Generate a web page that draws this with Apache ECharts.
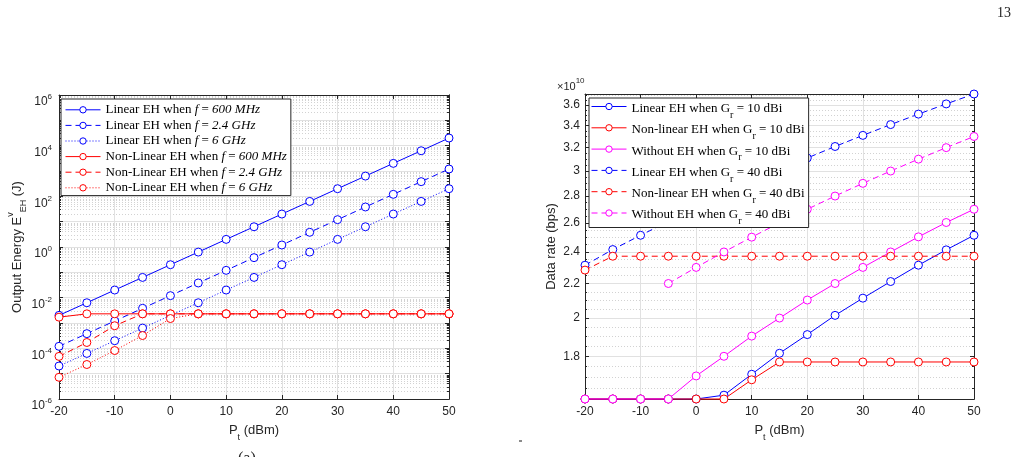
<!DOCTYPE html>
<html>
<head>
<meta charset="utf-8">
<script src="https://cdn.jsdelivr.net/npm/echarts@6/dist/echarts.min.js"></script>
<style>
html, body { margin: 0; padding: 0; background: #fff; }
#main { width: 1028px; height: 457px; }
</style>
</head>
<body>
<div id="main"></div>
<script>
// transmit power (dBm), shared by both panels
var pt = [-20, -15, -10, -5, 0, 5, 10, 15, 20, 25, 30, 35, 40, 45, 50];

// left panel: output energy (J)
var linear600 = [2e-3, 6.3e-3, 2e-2, 6.3e-2, 0.2, 0.63, 2, 6.3, 20, 63, 200, 630, 2000, 6300, 2e4];
var linear2400 = [1.2e-4, 3.8e-4, 1.2e-3, 3.8e-3, 1.2e-2, 3.8e-2, 0.12, 0.38, 1.2, 3.8, 12, 38, 120, 380, 1200];
var linear6000 = [2e-5, 6.3e-5, 2e-4, 6.3e-4, 2e-3, 6.3e-3, 2e-2, 6.3e-2, 0.2, 0.63, 2, 6.3, 20, 63, 200];
var nonlin600 = [1.7e-3, 2.3e-3, 2.3e-3, 2.3e-3, 2.3e-3, 2.3e-3, 2.3e-3, 2.3e-3, 2.3e-3, 2.3e-3, 2.3e-3, 2.3e-3, 2.3e-3, 2.3e-3, 2.3e-3];
var nonlin2400 = [4.8e-5, 1.7e-4, 7.8e-4, 2.3e-3, 2.3e-3, 2.3e-3, 2.3e-3, 2.3e-3, 2.3e-3, 2.3e-3, 2.3e-3, 2.3e-3, 2.3e-3, 2.3e-3, 2.3e-3];
var nonlin6000 = [7.2e-6, 2.3e-5, 8.2e-5, 3.2e-4, 1.5e-3, 2.3e-3, 2.3e-3, 2.3e-3, 2.3e-3, 2.3e-3, 2.3e-3, 2.3e-3, 2.3e-3, 2.3e-3, 2.3e-3];

// right panel: data rate (bps)
var linear10 = [1.6e10, 1.6e10, 1.6e10, 1.6e10, 1.6e10, 1.617e10, 1.713e10, 1.815e10, 1.911e10, 2.015e10, 2.113e10, 2.212e10, 2.314e10, 2.414e10, 2.513e10];
var nonlin10 = [1.6e10, 1.6e10, 1.6e10, 1.6e10, 1.6e10, 1.6e10, 1.687e10, 1.772e10, 1.772e10, 1.772e10, 1.772e10, 1.772e10, 1.772e10, 1.772e10, 1.772e10];
var without10 = [1.6e10, 1.6e10, 1.6e10, 1.6e10, 1.705e10, 1.8e10, 1.903e10, 2.0e10, 2.102e10, 2.2e10, 2.3e10, 2.4e10, 2.502e10, 2.603e10, 2.7e10];
var linear40 = [2.314e10, 2.416e10, 2.513e10, 2.61e10, 2.71e10, 2.81e10, 2.91e10, 3.01e10, 3.11e10, 3.21e10, 3.31e10, 3.41e10, 3.51e10, 3.61e10, 3.71e10];
var nonlin40 = [2.283e10, 2.372e10, 2.372e10, 2.372e10, 2.372e10, 2.372e10, 2.372e10, 2.372e10, 2.372e10, 2.372e10, 2.372e10, 2.372e10, 2.372e10, 2.372e10, 2.372e10];
var without40 = [null, null, null, 2.2e10, 2.3e10, 2.4e10, 2.5e10, 2.6e10, 2.7e10, 2.8e10, 2.9e10, 3.0e10, 3.1e10, 3.2e10, 3.3e10];

// tick values
var energyDecades = [1e-6, 1e-5, 1e-4, 1e-3, 1e-2, 1e-1, 1, 10, 100, 1e3, 1e4, 1e5, 1e6];
var energyLabels = [1e-6, 1e-4, 1e-2, 1, 100, 1e4, 1e6];
var rateTicks = [1.8e10, 2.0e10, 2.2e10, 2.4e10, 2.6e10, 2.8e10, 3.0e10, 3.2e10, 3.4e10, 3.6e10];

var energyMinor = [];
for (var e = -6; e < 6; e++) {
  for (var m = 2; m <= 9; m++) energyMinor.push(m * Math.pow(10, e));
}
var rateMinor = [];
for (var k = 32; k <= 74; k++) {
  if (k % 4 === 0 && k >= 36 && k <= 72) continue;
  rateMinor.push(k * 5e8);
}

var axisColor = '#262626';
var gridColor = '#e1e1e1';
var minorColor = '#d2d2d2';
var sans = '"Liberation Sans", Arial, sans-serif';
var serif = '"Liberation Serif", "Times New Roman", serif';

var subRich = {
  b: { fontFamily: sans, fontSize: 13, color: axisColor, lineHeight: 15, verticalAlign: 'top' },
  sub: { fontFamily: sans, fontSize: 9, color: axisColor, lineHeight: 9, padding: [9, 0, 0, 0], verticalAlign: 'top' },
  sup: { fontFamily: sans, fontSize: 9, color: axisColor, lineHeight: 9, padding: [0, 0, 0, 0], verticalAlign: 'top' }
};
var nameRichY = {
  b: { fontFamily: sans, fontSize: 13, color: axisColor, lineHeight: 15, padding: [5, 0, 0, 0], verticalAlign: 'top' },
  sub: { fontFamily: sans, fontSize: 9, color: axisColor, lineHeight: 9, padding: [13, 0, 0, 0], verticalAlign: 'top' },
  sup: { fontFamily: sans, fontSize: 9, color: axisColor, lineHeight: 9, padding: [0, 0, 0, 0], verticalAlign: 'top' }
};

function bottomX(g) {
  return {
    type: 'value', gridIndex: g, position: 'bottom', min: -20, max: 50, interval: 10,
    axisLine: { show: true, onZero: false, lineStyle: { color: axisColor, width: 1 } },
    axisTick: { show: true, inside: true, length: 4, lineStyle: { color: axisColor } },
    axisLabel: { color: axisColor, fontFamily: sans, fontSize: 12, margin: 7 },
    splitLine: { show: true, lineStyle: { color: gridColor, width: 1 } },
    name: '{b|P}{sub|t}{b| (dBm)}', nameLocation: 'middle', nameGap: 25,
    nameTextStyle: { rich: subRich }
  };
}
function topX(g) {
  return {
    type: 'value', gridIndex: g, position: 'top', min: -20, max: 50, interval: 10,
    axisLine: { show: true, onZero: false, lineStyle: { color: axisColor, width: 1 } },
    axisTick: { show: true, inside: true, length: 4, lineStyle: { color: axisColor } },
    axisLabel: { show: false },
    splitLine: { show: false }
  };
}
function frameY(g, min, max, ticks, len) {
  return {
    type: 'log', logBase: 10, gridIndex: g, position: 'right', min: min, max: max,
    axisLine: { show: true, onZero: false, lineStyle: { color: axisColor, width: 1 } },
    axisTick: { show: true, inside: true, length: len, customValues: ticks, lineStyle: { color: axisColor } },
    axisLabel: { show: false },
    splitLine: { show: false }
  };
}
function minorY(g, min, max, ticks) {
  return {
    type: 'log', logBase: 10, gridIndex: g, position: 'left', min: min, max: max,
    axisLine: { show: false, onZero: false },
    axisTick: { show: true, inside: true, length: 2, customValues: ticks, lineStyle: { color: axisColor } },
    axisLabel: { show: false },
    splitLine: { show: true, lineStyle: { color: minorColor, width: 1, type: [1, 2] } }
  };
}

var yAxes = [
  {
    type: 'log', logBase: 10, gridIndex: 0, position: 'left', min: 1e-6, max: 1e6,
    axisLine: { show: true, onZero: false, lineStyle: { color: axisColor, width: 1 } },
    axisTick: { show: true, inside: true, length: 4, customValues: energyDecades, lineStyle: { color: axisColor } },
    axisLabel: {
      customValues: energyLabels, margin: 7,
      formatter: function (v) { return '{b|10}{s|' + Math.round(Math.log10(v)) + '}'; },
      rich: {
        b: { fontFamily: sans, fontSize: 12, color: axisColor, lineHeight: 14, padding: [8, 0, 0, 0], verticalAlign: 'top' },
        s: { fontFamily: sans, fontSize: 8, color: axisColor, lineHeight: 8, padding: [5, 0, 0, 0], verticalAlign: 'top' }
      }
    },
    splitLine: { show: true, lineStyle: { color: gridColor, width: 1 } },
    name: '{b|Output Energy E}{sup|v}{sub|EH}{b| (J)}', nameLocation: 'middle', nameGap: 30,
    nameTextStyle: { rich: nameRichY }
  },
  minorY(0, 1e-6, 1e6, energyMinor),
  frameY(0, 1e-6, 1e6, energyDecades, 4),
  frameY(0, 1e-6, 1e6, energyMinor, 2),
  {
    type: 'log', logBase: 10, gridIndex: 1, position: 'left', min: 1.6e10, max: 3.71e10,
    axisLine: { show: true, onZero: false, lineStyle: { color: axisColor, width: 1 } },
    axisTick: { show: true, inside: true, length: 4, customValues: rateTicks, lineStyle: { color: axisColor } },
    axisLabel: {
      customValues: rateTicks, margin: 5, color: axisColor, fontFamily: sans, fontSize: 12,
      formatter: function (v) { return String(+(v / 1e10).toFixed(1)); }
    },
    splitLine: { show: true, lineStyle: { color: gridColor, width: 1 } },
    name: 'Data rate (bps)', nameLocation: 'middle', nameGap: 27,
    nameTextStyle: { color: axisColor, fontFamily: sans, fontSize: 13 }
  },
  minorY(1, 1.6e10, 3.71e10, rateMinor),
  frameY(1, 1.6e10, 3.71e10, rateTicks, 4),
  frameY(1, 1.6e10, 3.71e10, rateMinor, 2)
];

// open circle markers: white fill, coloured 1px outline
function line(name, ys, color, dash, xi, yi) {
  var data = [];
  for (var i = 0; i < pt.length; i++) {
    if (ys[i] != null) data.push([pt[i], ys[i]]);
  }
  return {
    name: name, type: 'line', xAxisIndex: xi, yAxisIndex: yi, data: data,
    symbol: 'circle', symbolSize: 8, clip: false,
    lineStyle: { color: color, width: 1, type: dash },
    itemStyle: { color: '#fff', borderColor: color, borderWidth: 1 },
    emphasis: { disabled: true }
  };
}

var DASH = [6, 4];
var DOT = [1, 2];
var blue = '#0000ff', red = '#ff0000', pink = '#ff00ff';

var leftNames = [
  'Linear EH when f = 600 MHz', 'Linear EH when f = 2.4 GHz', 'Linear EH when f = 6 GHz',
  'Non-Linear EH when f = 600 MHz', 'Non-Linear EH when f = 2.4 GHz', 'Non-Linear EH when f = 6 GHz'
];
var rightNames = [
  'Linear EH when G_r = 10 dBi', 'Non-linear EH when G_r = 10 dBi', 'Without EH when G_r = 10 dBi',
  'Linear EH when G_r = 40 dBi', 'Non-linear EH when G_r = 40 dBi', 'Without EH when G_r = 40 dBi'
];

var series = [
  line(leftNames[0], linear600, blue, 'solid', 0, 0),
  line(leftNames[1], linear2400, blue, DASH, 0, 0),
  line(leftNames[2], linear6000, blue, DOT, 0, 0),
  line(leftNames[3], nonlin600, red, 'solid', 0, 0),
  line(leftNames[4], nonlin2400, red, DASH, 0, 0),
  line(leftNames[5], nonlin6000, red, DOT, 0, 0),
  line(rightNames[0], linear10, blue, 'solid', 2, 4),
  line(rightNames[1], nonlin10, red, 'solid', 2, 4),
  line(rightNames[2], without10, pink, 'solid', 2, 4),
  line(rightNames[3], linear40, blue, DASH, 2, 4),
  line(rightNames[4], nonlin40, red, DASH, 2, 4),
  line(rightNames[5], without40, pink, DASH, 2, 4)
];

var legendBase = {
  orient: 'vertical', selectedMode: false, backgroundColor: '#fff',
  borderColor: axisColor, borderWidth: 1, borderRadius: 0,
  itemWidth: 35, itemHeight: 8,
  lineStyle: { width: 1 },
  itemStyle: { borderWidth: 1 }
};

var option = {
  animation: false,
  backgroundColor: '#fff',
  grid: [
    { left: 59, top: 95, width: 390, height: 304, containLabel: false },
    { left: 585, top: 94, width: 389, height: 305, containLabel: false }
  ],
  xAxis: [bottomX(0), topX(0), bottomX(1), topX(1)],
  yAxis: yAxes,
  legend: [
    Object.assign({}, legendBase, {
      left: 61, top: 99, padding: [3, 4, 0, 4], itemGap: 0,
      data: leftNames,
      formatter: function (n) {
        var p = n.split(' when f = ');
        return '{b|' + p[0] + ' when }{i|f}{b| = }{i|' + p[1] + '}';
      },
      textStyle: {
        lineHeight: 15.6,
        rich: {
          b: { fontFamily: serif, fontSize: 13, color: '#000', lineHeight: 15.6 },
          i: { fontFamily: serif, fontSize: 13, color: '#000', lineHeight: 15.6, fontStyle: 'italic' }
        }
      }
    }),
    Object.assign({}, legendBase, {
      left: 589, top: 98, padding: [1, 4, 1, 2], itemGap: 0.3,
      data: rightNames,
      formatter: function (n) {
        var p = n.split('G_r');
        return '{b|' + p[0] + 'G}{s|r}{b|' + p[1] + '}';
      },
      textStyle: {
        rich: {
          b: { fontFamily: serif, fontSize: 13, color: '#000', lineHeight: 15, padding: [3, 0, 3, 0], verticalAlign: 'top' },
          s: { fontFamily: serif, fontSize: 10, color: '#000', lineHeight: 10, padding: [11, 0, 0, 0], verticalAlign: 'top' }
        }
      }
    })
  ],
  graphic: [
    { type: 'text', left: 557, top: 77, style: {
      text: '{b|\u00d710}{s|10}',
      rich: {
        b: { fontFamily: sans, fontSize: 11, fill: axisColor, lineHeight: 13, padding: [4, 0, 0, 0], verticalAlign: 'top' },
        s: { fontFamily: sans, fontSize: 8, fill: axisColor, lineHeight: 8, padding: [0, 0, 0, 0], verticalAlign: 'top' }
      }
    } },
    { type: 'text', left: 997, top: 6, style: { text: '13', font: '14px ' + serif, fill: '#222' } },
    { type: 'text', left: 238, top: 451, style: { text: '(a)', font: '16px ' + serif, fill: '#222' } },
    { type: 'rect', left: 519, top: 440, shape: { width: 3, height: 2 }, style: { fill: '#8a8a8a' } }
  ],
  series: series
};

var chart = echarts.init(document.getElementById('main'));
chart.setOption(option);
</script>
</body>
</html>
